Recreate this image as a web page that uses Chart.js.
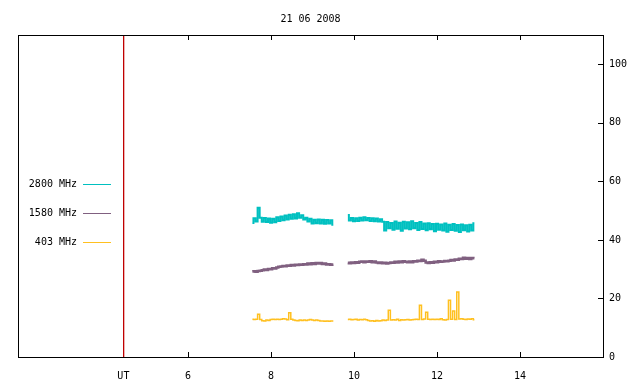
<!DOCTYPE html>
<html>
<head>
<meta charset="utf-8">
<script src="https://cdn.jsdelivr.net/npm/chart.js@4"></script>
<style>
  html, body { margin: 0; padding: 0; background: #fff; }
</style>
</head>
<body>
<canvas id="solarChart" width="640" height="384"></canvas>
<script>
const titleText = '21 06 2008';
const utTime = 4.44;
const xTickValues = [6, 8, 10, 12, 14];
const yTickValues = [0, 20, 40, 60, 80, 100];
const seriesNames = ['2800 MHz', '1580 MHz', '403 MHz'];
const seriesColors = ['#00c0c0', '#806080', '#ffc020'];

// UT hours, first and second recording block
const t1 = [7.55, 7.60, 7.65, 7.70, 7.75, 7.80, 7.85, 7.90, 7.95, 8.00,
  8.05, 8.10, 8.15, 8.20, 8.25, 8.30, 8.35, 8.40, 8.45, 8.50,
  8.55, 8.60, 8.65, 8.70, 8.75, 8.80, 8.85, 8.90, 8.95, 9.00,
  9.05, 9.10, 9.15, 9.20, 9.25, 9.30, 9.35, 9.40, 9.45, 9.50];
const t2 = [9.85, 9.90, 9.95, 10.00, 10.05, 10.10, 10.15, 10.20, 10.25, 10.30,
  10.35, 10.40, 10.45, 10.50, 10.55, 10.60, 10.65, 10.70, 10.75, 10.80,
  10.85, 10.90, 10.95, 11.00, 11.05, 11.10, 11.15, 11.20, 11.25, 11.30,
  11.35, 11.40, 11.45, 11.50, 11.55, 11.60, 11.65, 11.70, 11.75, 11.80,
  11.85, 11.90, 11.95, 12.00, 12.05, 12.10, 12.15, 12.20, 12.25, 12.30,
  12.35, 12.40, 12.45, 12.50, 12.55, 12.60, 12.65, 12.70, 12.75, 12.80,
  12.85, 12.90];

// 2800 MHz
const c1 = [45.8, 47.4, 46.3, 51.0, 47.6, 46.2, 47.5, 46.1, 47.3, 45.9,
  47.2, 46.0, 47.7, 46.5, 48.0, 46.7, 48.3, 47.0, 48.6, 47.2,
  48.8, 47.3, 49.1, 47.6, 48.4, 47.0, 47.6, 46.3, 47.2, 45.6,
  46.9, 45.7, 47.0, 45.6, 46.9, 45.5, 46.8, 45.6, 46.7, 45.2];
const c2 = [48.5, 46.6, 47.5, 46.4, 47.4, 46.5, 47.6, 46.6, 47.7, 46.7,
  47.5, 46.5, 47.4, 46.4, 47.3, 46.3, 47.1, 46.2, 43.2, 46.1,
  44.0, 45.8, 43.5, 46.3, 43.8, 45.9, 43.1, 46.2, 43.9, 46.0,
  43.6, 46.4, 44.0, 45.8, 43.4, 46.1, 43.7, 45.6, 43.3, 45.7,
  43.6, 45.4, 43.0, 45.5, 43.5, 45.3, 43.2, 45.6, 42.8, 45.2,
  43.4, 45.4, 43.1, 45.1, 42.7, 45.3, 43.3, 45.0, 42.9, 45.2,
  43.2, 45.7];

// 1580 MHz
const p1 = [29.2, 29.3, 29.1, 29.4, 29.5, 29.6, 29.9, 29.7, 30.1, 30.0,
  30.3, 30.2, 30.6, 30.8, 30.9, 31.1, 31.0, 31.3, 31.2, 31.4,
  31.3, 31.5, 31.4, 31.6, 31.5, 31.7, 31.6, 31.9, 31.7, 32.0,
  31.8, 32.1, 31.9, 32.1, 31.8, 31.9, 31.6, 31.7, 31.5, 31.6];
const p2 = [32.2, 32.0, 32.3, 32.1, 32.4, 32.2, 32.5, 32.6, 32.4, 32.6,
  32.5, 32.7, 32.4, 32.6, 32.3, 32.1, 32.3, 32.0, 32.2, 31.9,
  32.1, 32.3, 32.2, 32.5, 32.3, 32.6, 32.4, 32.7, 32.5, 32.4,
  32.6, 32.4, 32.7, 32.6, 32.9, 32.8, 33.2, 32.9, 32.3, 32.1,
  32.4, 32.2, 32.5, 32.4, 32.7, 32.5, 32.6, 32.8, 32.7, 32.9,
  33.1, 33.0, 33.3, 33.2, 33.6, 33.5, 33.9, 33.6, 33.8, 33.5,
  33.8, 33.7];

// 403 MHz
const g1 = [12.9, 12.8, 12.9, 14.6, 12.8, 12.4, 12.3, 12.6, 12.5, 12.8,
  12.9, 12.8, 12.9, 12.8, 12.9, 13.1, 13.0, 12.7, 15.1, 12.9,
  12.6, 12.5, 12.4, 12.6, 12.5, 12.6, 12.5, 12.6, 12.8, 12.6,
  12.5, 12.6, 12.5, 12.3, 12.3, 12.2, 12.3, 12.2, 12.3, 12.3];
const g2 = [12.8, 12.9, 12.7, 12.8, 12.9, 12.6, 12.8, 12.7, 12.9, 12.7,
  12.5, 12.3, 12.4, 12.2, 12.5, 12.3, 12.4, 12.6, 12.5, 12.6,
  16.0, 12.6, 12.7, 12.6, 12.9, 12.5, 12.7, 12.6, 12.7, 12.8,
  12.6, 12.7, 12.8, 12.9, 12.8, 17.7, 12.8, 13.0, 15.3, 12.9,
  12.8, 12.9, 12.8, 12.9, 12.8, 13.1, 12.7, 12.6, 12.8, 19.4,
  12.9, 15.7, 12.8, 22.2, 13.0, 13.1, 12.9, 12.8, 13.0, 12.9,
  13.1, 12.7];

function joinBlocks(a, b) {
  const pts = t1.map((x, i) => ({ x: x, y: a[i] }));
  pts.push({ x: (t1[t1.length - 1] + t2[0]) / 2, y: null }); // data gap
  t2.forEach((x, i) => pts.push({ x: x, y: b[i] }));
  return pts;
}

const blocks = [[c1, c2], [p1, p2], [g1, g2]];
const lineWidths = [2, 2.5, 1.5];

Chart.defaults.font.family = "'DejaVu Sans Mono', monospace";
Chart.defaults.font.size = 10;
Chart.defaults.color = '#000';

// frame, inward tick marks, UT line and the legend on the left
const framePlugin = {
  id: 'frame',
  afterDatasetsDraw(chart) {
    const ctx = chart.ctx;
    const a = chart.chartArea;
    const xs = chart.scales.x;
    const ys = chart.scales.y;
    ctx.save();
    ctx.lineWidth = 1;

    ctx.strokeStyle = '#000000';
    ctx.beginPath();
    xTickValues.forEach(v => {
      const px = Math.round(xs.getPixelForValue(v)) + 0.5;
      ctx.moveTo(px, a.bottom); ctx.lineTo(px, a.bottom - 5);
      ctx.moveTo(px, a.top); ctx.lineTo(px, a.top + 5);
    });
    yTickValues.forEach(v => {
      const py = Math.round(ys.getPixelForValue(v)) + 0.5;
      ctx.moveTo(a.right, py); ctx.lineTo(a.right - 5, py);
    });
    ctx.stroke();

    ctx.strokeRect(Math.round(a.left) + 0.5, Math.round(a.top) + 0.5,
      Math.round(a.right - a.left), Math.round(a.bottom - a.top));

    // UT marker line
    const ux = Math.round(xs.getPixelForValue(utTime));
    ctx.fillStyle = '#c00000';
    ctx.fillRect(ux, a.top + 1, 1.3, a.bottom - a.top - 1);

    ctx.font = "10px 'DejaVu Sans Mono', monospace";
    ctx.textAlign = 'right';
    ctx.textBaseline = 'middle';
    chart.data.datasets.forEach((ds, i) => {
      const y = 184 + i * 29;
      ctx.fillStyle = '#000';
      ctx.fillText(ds.label, 77, y);
      ctx.strokeStyle = ds.borderColor;
      ctx.beginPath();
      ctx.moveTo(83, y + 0.5); ctx.lineTo(111, y + 0.5);
      ctx.stroke();
    });
    ctx.restore();
  }
};

new Chart(document.getElementById('solarChart'), {
  type: 'line',
  data: {
    datasets: seriesNames.map((name, i) => ({
      label: name,
      data: joinBlocks(blocks[i][0], blocks[i][1]),
      borderColor: seriesColors[i],
      borderWidth: lineWidths[i],
      pointRadius: 0,
      tension: 0,
      stepped: 'middle',
      spanGaps: false
    }))
  },
  options: {
    responsive: false,
    animation: false,
    layout: { padding: { left: 18, right: 0, top: 0, bottom: 0 } },
    plugins: {
      legend: { display: false },
      tooltip: { enabled: false },
      title: {
        display: true,
        fullSize: false,
        text: titleText,
        color: '#000',
        font: { size: 10, weight: 'normal' },
        padding: { top: 13, bottom: 10 }
      }
    },
    scales: {
      x: {
        type: 'linear',
        min: 1.9,
        max: 16,
        grid: { display: false, drawTicks: false },
        border: { display: false },
        afterBuildTicks: s => { s.ticks = [utTime].concat(xTickValues).map(v => ({ value: v })); },
        afterFit: s => { s.height = 27; },
        ticks: {
          padding: 13,
          maxRotation: 0,
          autoSkip: false,
          callback: v => (v === utTime ? 'UT' : v)
        }
      },
      y: {
        position: 'right',
        min: 0,
        max: 110,
        grid: { display: false, drawTicks: false },
        border: { display: false },
        afterBuildTicks: s => { s.ticks = yTickValues.map(v => ({ value: v })); },
        afterFit: s => { s.width = 37; },
        ticks: { padding: 6 }
      }
    }
  },
  plugins: [framePlugin]
});
</script>
</body>
</html>
